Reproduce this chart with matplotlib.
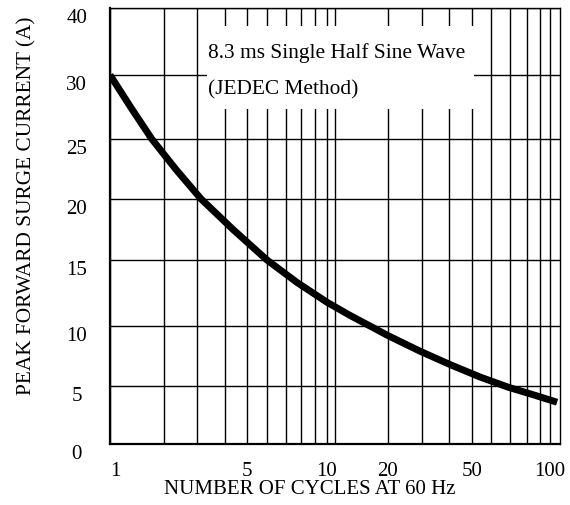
import matplotlib
matplotlib.use("Agg")
import matplotlib.pyplot as plt
import numpy as np
from matplotlib.patches import Rectangle

# curve (cycles at 60 Hz, peak forward surge current in A)
CYCLES = [1, 1.33, 1.71, 2.32, 3.13, 4.34, 6, 7.72, 10, 13, 16.3, 20, 29.3, 40.8, 54, 68.9, 84.5, 107]
CURRENT = [30.0, 27.3, 25.0, 22.45, 20.0, 17.5, 15.0, 13.3, 11.8, 10.8, 10.0, 9.2, 7.9, 6.75, 5.75, 4.9, 4.25, 3.6]

X_TICKS = [1, 5, 10, 20, 50, 100]
X_TICK_LABELS = ["1", "5", "10", "20", "50", "100"]
X_GRID = [2, 3, 4, 5, 6, 7, 8, 9, 10, 11, 20, 30, 40, 50, 60, 70, 80, 90, 100]
Y_TICKS = [0, 5, 10, 15, 20, 25, 30, 40]
Y_GRID = [5, 10, 15, 20, 25, 30]

BOX_LINES = ["8.3 ms Single Half Sine Wave", "(JEDEC Method)"]

# the printed chart paper is not a clean log/linear grid, so map it piecewise
X_PAPER_VALUES = [0.1, 1, 2, 3, 4, 5, 6, 7, 8, 9, 10, 20, 30, 40, 50, 60, 70, 80, 90, 100, 110, 1000]
X_PAPER_POS = [-116, 110, 164, 197, 225, 247, 267, 286, 301, 315, 327,
               388, 422, 449, 472, 491, 510, 527, 540, 550, 560, 786]
Y_PAPER_VALUES = [-10, 0, 5, 10, 15, 20, 25, 30, 40, 50]
Y_PAPER_POS = [-116, 0, 58, 118, 184, 245, 305, 369, 436, 503]

X_LOG = np.log10(X_PAPER_VALUES)


def x_forward(v):
    v = np.clip(np.asarray(v, dtype=float), 1e-3, None)
    return np.interp(np.log10(v), X_LOG, X_PAPER_POS)


def x_inverse(p):
    return 10 ** np.interp(np.asarray(p, dtype=float), X_PAPER_POS, X_LOG)


def y_forward(v):
    return np.interp(np.asarray(v, dtype=float), Y_PAPER_VALUES, Y_PAPER_POS)


def y_inverse(p):
    return np.interp(np.asarray(p, dtype=float), Y_PAPER_POS, Y_PAPER_VALUES)


plt.rcParams["font.family"] = ["Liberation Serif", "DejaVu Serif"]

fig = plt.figure(figsize=(5.7, 5.06), dpi=100)
ax = fig.add_axes([110 / 570, 61 / 506, 450 / 570, 436 / 506])

ax.set_xscale("function", functions=(x_forward, x_inverse))
ax.set_yscale("function", functions=(y_forward, y_inverse))
ax.set_xlim(1, 110)
ax.set_ylim(0, 40)

ax.set_xticks(X_TICKS)
ax.set_xticklabels(X_TICK_LABELS)
ax.set_xticks(X_GRID, minor=True)
ax.set_yticks(Y_TICKS)
ax.set_yticks(Y_GRID, minor=True)
ax.xaxis.set_minor_formatter(plt.NullFormatter())
ax.yaxis.set_minor_formatter(plt.NullFormatter())

ax.set_axisbelow(True)
ax.grid(True, which="both", color="black", linewidth=1.0)
ax.tick_params(which="both", length=0)
ax.tick_params(axis="x", labelsize=15, pad=12)
ax.tick_params(axis="y", labelsize=15, pad=24)
plt.setp(ax.get_yticklabels(), ha="center", va="top")
ax.get_xticklabels()[0].set_ha("left")

for side in ["left", "bottom"]:
    ax.spines[side].set_linewidth(1.6)
for side in ["top", "right"]:
    ax.spines[side].set_linewidth(1.0)

ax.plot(CYCLES, CURRENT, color="black", linewidth=5, solid_capstyle="butt",
        solid_joinstyle="round", zorder=3)

ax.add_patch(Rectangle((0.2156, 0.768), 0.594, 0.191, transform=ax.transAxes,
                       facecolor="white", edgecolor="none", zorder=1))
ax.text(0.218, 0.888, BOX_LINES[0], transform=ax.transAxes, fontsize=15.4,
        ha="left", va="baseline", zorder=4)
ax.text(0.218, 0.805, BOX_LINES[1], transform=ax.transAxes, fontsize=15.4,
        ha="left", va="baseline", zorder=4)

ax.set_xlabel("NUMBER OF CYCLES AT 60 Hz", fontsize=15)
ax.xaxis.set_label_coords(0.444, -0.080)
ax.set_ylabel("PEAK FORWARD SURGE CURRENT (A)", fontsize=15.3)
ax.yaxis.set_label_coords(-0.163, 0.548)

fig.savefig("out.png", dpi=100)
